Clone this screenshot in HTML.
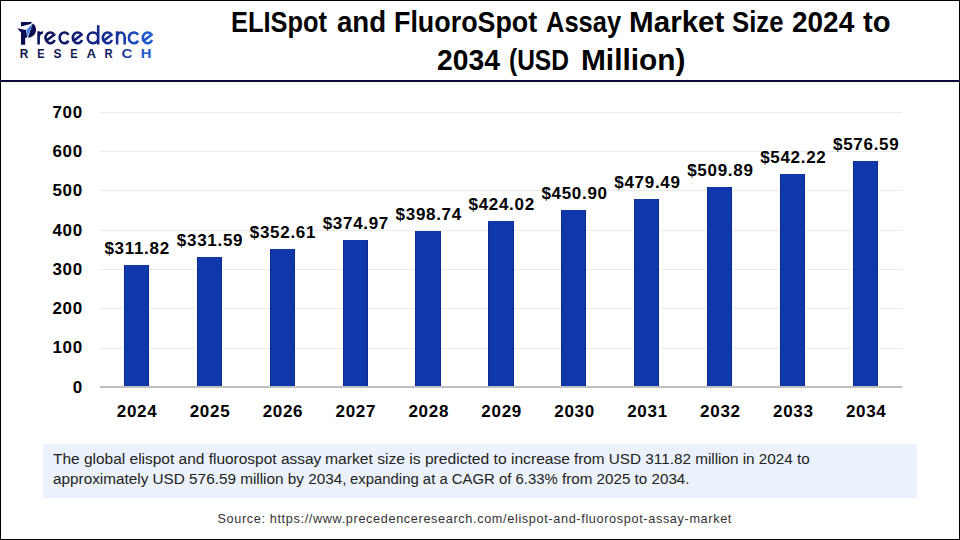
<!DOCTYPE html>
<html><head><meta charset="utf-8">
<style>
html,body{margin:0;padding:0;}
body{width:960px;height:540px;position:relative;overflow:hidden;background:#fff;font-family:"Liberation Sans",sans-serif;}
.frame{position:absolute;left:0;top:0;width:958px;height:538px;border:1px solid #000;}
.hline{position:absolute;left:0;top:80px;width:960px;height:2px;background:#0b0b3b;}
.t{position:absolute;white-space:nowrap;font-weight:bold;color:#000;font-size:29px;line-height:1;transform-origin:0 0;}
.grid{position:absolute;left:100px;width:802px;height:1px;background:#ebebeb;}
.axis{position:absolute;left:100px;top:386px;width:802px;height:2px;background:#bfbfbf;}
.bar{position:absolute;background:#0f38ab;box-shadow:inset 1px 0 0 #0c2c90,inset -1px 0 0 #0c2c90;}
.yl{position:absolute;width:40px;text-align:right;font-weight:bold;font-size:17px;line-height:17px;color:#000;letter-spacing:0.7px;}
.xl{position:absolute;width:72.9px;text-align:center;font-weight:bold;font-size:17px;line-height:17px;color:#000;letter-spacing:0.7px;padding-left:0.7px;}
.vl{position:absolute;width:100px;text-align:center;font-weight:bold;font-size:17px;line-height:17px;color:#000;letter-spacing:0.7px;padding-left:0.7px;}
.box{position:absolute;left:43px;top:444px;width:873.5px;height:54px;background:#ebf2fb;}
.p{position:absolute;white-space:nowrap;font-size:15.5px;line-height:1;color:#222;transform-origin:0 0;}
.src{position:absolute;white-space:nowrap;font-size:12.7px;letter-spacing:0.64px;line-height:1;color:#333;transform-origin:0 0;}
</style></head><body>
<div class="frame"></div>
<div class="hline"></div>

<!-- logo -->
<svg style="position:absolute;left:0;top:0" width="170" height="75" viewBox="0 0 170 75">
  <defs>
    <linearGradient id="lg" x1="36" y1="0" x2="154" y2="0" gradientUnits="userSpaceOnUse">
      <stop offset="0" stop-color="#0c1258"/>
      <stop offset="0.4" stop-color="#121f78"/>
      <stop offset="0.7" stop-color="#16349e"/>
      <stop offset="1" stop-color="#2563dc"/>
    </linearGradient>
    <linearGradient id="lg2" x1="20" y1="0" x2="151" y2="0" gradientUnits="userSpaceOnUse">
      <stop offset="0" stop-color="#0e1450"/>
      <stop offset="0.6" stop-color="#14226e"/>
      <stop offset="0.8" stop-color="#1c3c9c"/>
      <stop offset="1" stop-color="#2458d0"/>
    </linearGradient>
    <linearGradient id="bl" x1="26" y1="0" x2="32" y2="0" gradientUnits="userSpaceOnUse">
      <stop offset="0" stop-color="#6aa8ff"/>
      <stop offset="1" stop-color="#1f55d0"/>
    </linearGradient>
  </defs>
  <g fill="#0a0f52">
    <!-- top bar -->
    <path d="M21 22 L32.2 22 L30.6 23.9 L21 26.6 Z"/>
    <!-- wing + stem -->
    <path d="M17.2 28.3 L26.2 29.9 L27.2 37.2 L25.2 38 L25.2 44.7 L21 44.7 L21 32.6 Z"/>
    <!-- bowl -->
    <path d="M32.6 23.6 C34.8 24.6 36 27 36 29.8 C36 34.2 32.6 37.6 28 37.7 Z"/>
  </g>
  <path d="M26.2 29.9 L32.2 23.9 L27.6 37.4 Z" fill="url(#bl)"/>
  <path d="M38.60 31.2 L38.60 44.5 M38.60 38.35 C38.60 33.40 40.60 32.50 43.00 32.50 M46.32 40.84 L54.18 34.71 A4.80 5.35 0 1 0 54.69 40.03 M68.52 34.94 A4.85 5.35 0 1 0 68.52 40.76 M73.63 40.84 L81.57 34.71 A4.85 5.35 0 1 0 82.08 40.03 M98.20 25.3 L98.20 44.5 M98.20 37.85 A5.25 5.35 0 1 0 87.70 37.85 A5.25 5.35 0 1 0 98.20 37.85 M103.62 40.84 L111.48 34.71 A4.80 5.35 0 1 0 111.99 40.03 M117.10 31.2 L117.10 44.5 M117.10 44.5 L117.10 37.85 A3.80 5.35 0 0 1 124.70 37.85 L124.70 44.5 M138.09 34.94 A5.00 5.35 0 1 0 138.09 40.76 M143.63 40.84 L151.57 34.71 A4.85 5.35 0 1 0 152.08 40.03" fill="none" stroke="url(#lg)" stroke-width="2.6"/>
  <g font-family="Liberation Sans" font-weight="bold" font-size="12.9">
    <text transform="translate(19.66 57.8) scale(0.916 1)" fill="#10154f">R</text>
    <text transform="translate(37.22 57.8) scale(0.842 1)" fill="#10154f">E</text>
    <text transform="translate(53.60 57.8) scale(0.931 1)" fill="#111650">S</text>
    <text transform="translate(70.31 57.8) scale(0.856 1)" fill="#121852">E</text>
    <text transform="translate(86.42 57.8) scale(1.028 1)" fill="#141c5c">A</text>
    <text transform="translate(104.59 57.8) scale(0.879 1)" fill="#17246c">R</text>
    <text transform="translate(121.53 57.8) scale(1.163 1)" fill="#1e3c98">C</text>
    <text transform="translate(140.86 57.8) scale(1.147 1)" fill="#2458cc">H</text>
  </g>
</svg>

<!-- title -->
<div class="t" style="left:231.15px;top:7.80px;transform:scaleX(0.8759)">ELISpot</div>
<div class="t" style="left:336.55px;top:7.80px;transform:scaleX(0.9531)">and</div>
<div class="t" style="left:393.95px;top:7.80px;transform:scaleX(0.9261)">FluoroSpot</div>
<div class="t" style="left:546.12px;top:7.80px;transform:scaleX(0.8786)">Assay</div>
<div class="t" style="left:629.26px;top:7.80px;transform:scaleX(1.0209)">Market</div>
<div class="t" style="left:732.41px;top:7.80px;transform:scaleX(0.8875)">Size</div>
<div class="t" style="left:791.54px;top:7.80px;transform:scaleX(0.9641)">2024</div>
<div class="t" style="left:863.30px;top:7.80px;transform:scaleX(1.0037)">to</div>
<div class="t" style="left:436.52px;top:45.60px;transform:scaleX(0.9766)">2034</div>
<div class="t" style="left:509.16px;top:45.60px;transform:scaleX(0.8449)">(USD</div>
<div class="t" style="left:581.24px;top:45.60px;transform:scaleX(1.0296)">Million)</div>

<!-- gridlines -->
<div class="grid" style="top:112px"></div>
<div class="grid" style="top:151px"></div>
<div class="grid" style="top:190px"></div>
<div class="grid" style="top:230px"></div>
<div class="grid" style="top:269px"></div>
<div class="grid" style="top:308px"></div>
<div class="grid" style="top:348px"></div>
<div class="axis"></div>

<!-- y labels -->
<div class="yl" style="left:42.9px;top:104px">700</div>
<div class="yl" style="left:42.9px;top:143px">600</div>
<div class="yl" style="left:42.9px;top:182px">500</div>
<div class="yl" style="left:42.9px;top:222px">400</div>
<div class="yl" style="left:42.9px;top:261px">300</div>
<div class="yl" style="left:42.9px;top:300px">200</div>
<div class="yl" style="left:42.9px;top:339px">100</div>
<div class="yl" style="left:42.9px;top:379px">0</div>

<!--BARS-->
<div class="bar" style="left:123.85px;top:264.68px;width:25.2px;height:121.32px"></div>
<div class="bar" style="left:196.76px;top:256.92px;width:25.2px;height:129.08px"></div>
<div class="bar" style="left:269.67px;top:248.68px;width:25.2px;height:137.32px"></div>
<div class="bar" style="left:342.58px;top:239.90px;width:25.2px;height:146.10px"></div>
<div class="bar" style="left:415.49px;top:230.58px;width:25.2px;height:155.42px"></div>
<div class="bar" style="left:488.40px;top:220.66px;width:25.2px;height:165.34px"></div>
<div class="bar" style="left:561.31px;top:210.12px;width:25.2px;height:175.88px"></div>
<div class="bar" style="left:634.22px;top:198.90px;width:25.2px;height:187.10px"></div>
<div class="bar" style="left:707.13px;top:186.98px;width:25.2px;height:199.02px"></div>
<div class="bar" style="left:780.04px;top:174.29px;width:25.2px;height:211.71px"></div>
<div class="bar" style="left:852.95px;top:160.81px;width:25.2px;height:225.19px"></div>
<div class="vl" style="left:86.45px;top:239.68px">$311.82</div>
<div class="vl" style="left:159.36px;top:231.92px">$331.59</div>
<div class="vl" style="left:232.27px;top:223.68px">$352.61</div>
<div class="vl" style="left:305.18px;top:214.90px">$374.97</div>
<div class="vl" style="left:378.09px;top:205.58px">$398.74</div>
<div class="vl" style="left:451.00px;top:195.66px">$424.02</div>
<div class="vl" style="left:523.91px;top:185.12px">$450.90</div>
<div class="vl" style="left:596.82px;top:173.90px">$479.49</div>
<div class="vl" style="left:669.73px;top:161.98px">$509.89</div>
<div class="vl" style="left:742.64px;top:149.29px">$542.22</div>
<div class="vl" style="left:815.55px;top:135.81px">$576.59</div>
<div class="xl" style="left:100.00px;top:403px">2024</div>
<div class="xl" style="left:172.91px;top:403px">2025</div>
<div class="xl" style="left:245.82px;top:403px">2026</div>
<div class="xl" style="left:318.73px;top:403px">2027</div>
<div class="xl" style="left:391.64px;top:403px">2028</div>
<div class="xl" style="left:464.55px;top:403px">2029</div>
<div class="xl" style="left:537.45px;top:403px">2030</div>
<div class="xl" style="left:610.36px;top:403px">2031</div>
<div class="xl" style="left:683.27px;top:403px">2032</div>
<div class="xl" style="left:756.18px;top:403px">2033</div>
<div class="xl" style="left:829.09px;top:403px">2034</div>
<!--ENDBARS-->

<div class="box"></div>
<div class="p" style="left:53.30px;top:450.85px;transform:scaleX(0.9981)">The global elispot and fluorospot assay</div>
<div class="p" style="left:324.69px;top:450.85px;transform:scaleX(1.0087)">market size is predicted to increase</div>
<div class="p" style="left:573.50px;top:450.85px;transform:scaleX(0.9858)">from USD 311.82 million in 2024 to</div>
<div class="p" style="left:52.81px;top:470.85px;transform:scaleX(0.9875)">approximately USD 576.59 million by 2034,</div>
<div class="p" style="left:350.04px;top:470.85px;transform:scaleX(0.9605)">expanding at a CAGR of 6.33%</div>
<div class="p" style="left:561.80px;top:470.85px;transform:scaleX(0.9798)">from 2025 to 2034.</div>
<div class="src" id="src" style="left:217.4px;top:513px">Source: https://www.precedenceresearch.com/elispot-and-fluorospot-assay-market</div>
</body></html>
